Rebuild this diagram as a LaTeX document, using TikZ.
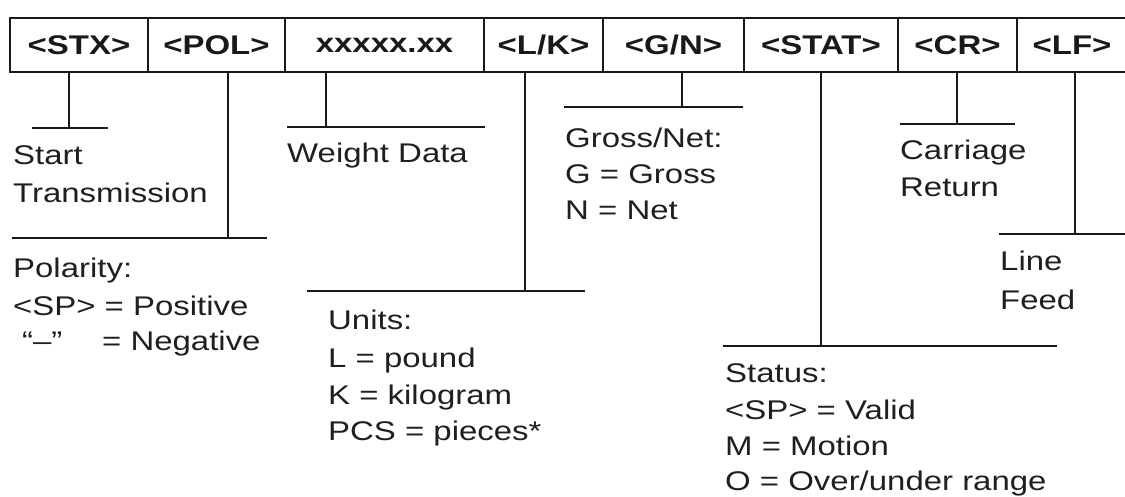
\documentclass[tikz,border=0pt]{standalone}
\usepackage{fontspec}
\setmainfont{Liberation Sans}[FakeStretch=1.22]
\begin{document}
\begin{tikzpicture}[x=1pt,y=-1pt,
  ink/.style={draw=black!90, line width=2pt},
  cell/.style={ink, rectangle, inner sep=0pt, minimum height=54pt, font=\fontsize{27}{30}\selectfont\bfseries, text=black!90},
  opencell/.style={rectangle, inner sep=0pt, minimum height=54pt, font=\fontsize{27}{30}\selectfont\bfseries, text=black!90},
  lbl/.style={anchor=base west, inner sep=0pt, font=\fontsize{27}{30}\selectfont, text=black!88}]
\useasboundingbox (0,0) rectangle (1125,497);
% message frame
\node[cell, minimum width=138pt] (stx) at (79,45) {<STX>};
\node[cell, minimum width=137pt] (pol) at (216.5,45) {<POL>};
\node[cell, minimum width=199pt] (wgt) at (384.5,45) {xxxxx.xx};
\node[cell, minimum width=119pt] (lk) at (543.5,45) {<L/K>};
\node[cell, minimum width=141pt] (gn) at (673.5,45) {<G/N>};
\node[cell, minimum width=154pt] (stat) at (821,45) {<STAT>};
\node[cell, minimum width=119pt] (cr) at (957.5,45) {<CR>};
\node[opencell, minimum width=110pt] (lf) at (1072,45) {<LF>};
\draw[ink] (lf.north west) -- (lf.north east);
\draw[ink] (lf.south west) -- (lf.south east);
% bars (left end, tee point, right end)
\coordinate (stxL) at (32,128);  \coordinate (stxT) at (69,128);  \coordinate (stxR) at (108,128);
\coordinate (polL) at (12,238);  \coordinate (polT) at (228,238); \coordinate (polR) at (267,238);
\coordinate (wgtL) at (287,127); \coordinate (wgtT) at (326,127); \coordinate (wgtR) at (485,127);
\coordinate (lkL) at (307,291);  \coordinate (lkT) at (525,291);  \coordinate (lkR) at (585,291);
\coordinate (gnL) at (564,107);  \coordinate (gnT) at (682,107);  \coordinate (gnR) at (743,107);
\coordinate (statL) at (723,346); \coordinate (statT) at (821,346); \coordinate (statR) at (1057,346);
\coordinate (crL) at (900,124);  \coordinate (crT) at (957,124);  \coordinate (crR) at (1015,124);
\coordinate (lfL) at (999,234);  \coordinate (lfT) at (1075,234); \coordinate (lfR) at (1125,234);
\foreach \n in {stx,pol,wgt,lk,gn,stat,cr,lf}{
  \draw[ink] (\n L) -- (\n R);
  \draw[ink] (\n T |- \n.south) -- (\n T);
}
% labels
\node[lbl] (t1a) at (13,165) {Start};
\node[lbl] (t1b) at (13,203) {Transmission};
\node[lbl] (t2a) at (13,277) {Polarity:};
\node[lbl] (t2b) at (13,315) {<SP> = Positive};
\node[lbl] (t2c) at (22,350) {“–”};
\node[lbl] (t2d) at (102,350) {= Negative};
\node[lbl] (t3a) at (287,163) {Weight Data};
\node[lbl] (t4a) at (328,329) {Units:};
\node[lbl] (t4b) at (328,367) {L = pound};
\node[lbl] (t4c) at (328,404) {K = kilogram};
\node[lbl] (t4d) at (328,440) {PCS = pieces*};
\node[lbl] (t5a) at (565,148) {Gross/Net:};
\node[lbl] (t5b) at (565,184) {G = Gross};
\node[lbl] (t5c) at (565,220) {N = Net};
\node[lbl] (t6a) at (725,382) {Status:};
\node[lbl] (t6b) at (725,419) {<SP> = Valid};
\node[lbl] (t6c) at (725,455) {M = Motion};
\node[lbl] (t6d) at (725,490) {O = Over/under range};
\node[lbl] (t7a) at (900,160) {Carriage};
\node[lbl] (t7b) at (900,197) {Return};
\node[lbl] (t8a) at (1000,271) {Line};
\node[lbl] (t8b) at (1000,309) {Feed};
\end{tikzpicture}
\end{document}
